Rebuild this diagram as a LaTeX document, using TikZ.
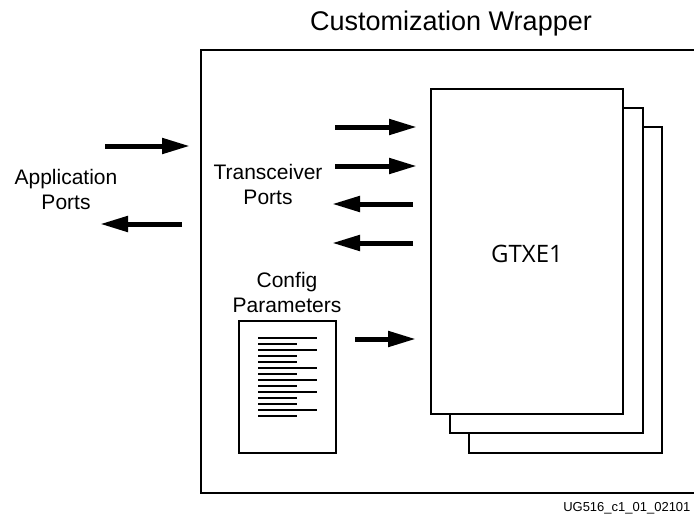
\documentclass[tikz,border=0pt]{standalone}
\usepackage{fontspec}
\setmainfont{Liberation Sans}
\newfontfamily\gtxfont{Open Sans}
\usetikzlibrary{arrows.meta}
\tikzset{
	box/.style={draw, line width=2pt, fill=white, inner sep=0pt},
	bigarrow/.style={line width=5pt, -{Triangle[length=28pt,width=15pt]}},
	lbl/.style={align=center, inner sep=0pt, font=\fontsize{21}{25}\selectfont},
}
\begin{document}
\begin{tikzpicture}[x=1pt,y=-1pt]
	\useasboundingbox (0,0) rectangle (694,514);
	%\draw[lightgray] (0,0) grid[step=50] (694,514);
	% wrapper
	\draw[line width=2pt] (700,50) -- (201,50) -- (201,493) -- (700,493);
	\node[font=\fontsize{27}{30}\selectfont] (title) at (451,24) {Customization Wrapper};
	\node[font=\fontsize{13}{15}\selectfont, anchor=east] (fig) at (694,508) {UG516\_c1\_01\_02101};
	% GTXE1 stack
	\node[box, minimum width=193pt, minimum height=326pt] (gtxc) at (565.5,290) {};
	\node[box, minimum width=193pt, minimum height=325pt] (gtxb) at (546.5,270.5) {};
	\node[box, minimum width=192pt, minimum height=325pt] (gtx) at (527,251.5) {};
	\node[font=\gtxfont\fontsize{24}{28}\selectfont] (gtxname) at (527,254) {GTXE1};
	% labels
	\node[lbl] (app) at (66,189) {Application\\Ports};
	\node[lbl] (trx) at (268,184) {Transceiver\\Ports};
	\node[lbl] (cfg) at (287,292) {Config\\Parameters};
	% config sheet
	\node[box, minimum width=97pt, minimum height=132pt] (sheet) at (287.5,387) {};
	\foreach \i/\w in {0/59,1/39,2/59,3/39,4/39,5/59,6/39,7/59,8/39,9/59,10/39,11/39,12/59,13/39}
		\draw[line width=1.2pt] (258,338+6*\i) -- ++(\w,0);
	% arrows
	\coordinate (a1) at (105,146);  \coordinate (a1e) at (190,146);
	\coordinate (a2) at (182,224);  \coordinate (a2e) at (100,224);
	\coordinate (t1) at (335,127);  \coordinate (t1e) at (417,127);
	\coordinate (t2) at (335,166);  \coordinate (t2e) at (417,166);
	\coordinate (t3) at (413,204);  \coordinate (t3e) at (332,204);
	\coordinate (t4) at (413,243);  \coordinate (t4e) at (332,243);
	\coordinate (c1) at (355,339);  \coordinate (c1e) at (416,339);
	\draw[bigarrow] (a1) -- (a1e);
	\draw[bigarrow] (a2) -- (a2e);
	\draw[bigarrow] (t1) -- (t1e);
	\draw[bigarrow] (t2) -- (t2e);
	\draw[bigarrow] (t3) -- (t3e);
	\draw[bigarrow] (t4) -- (t4e);
	\draw[bigarrow] (c1) -- (c1e);
\end{tikzpicture}
\end{document}
